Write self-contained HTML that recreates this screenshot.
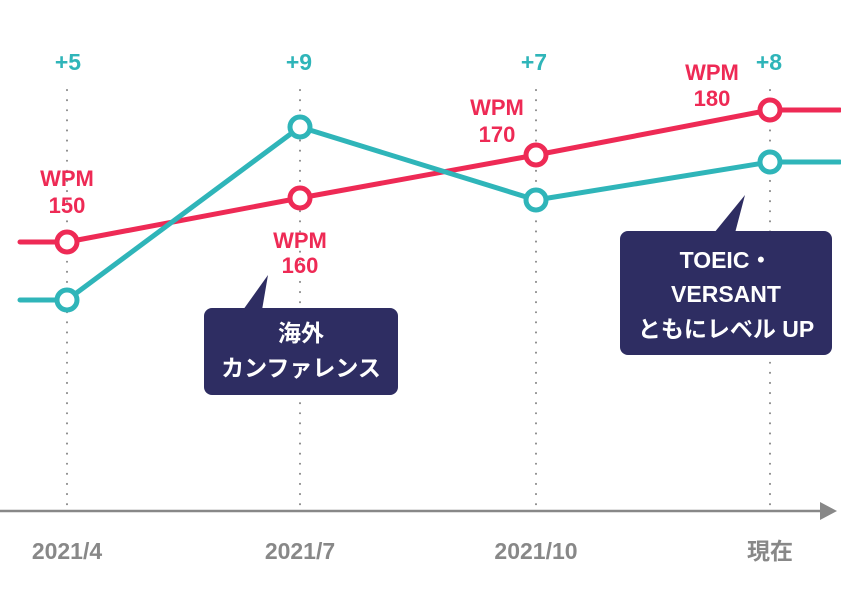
<!DOCTYPE html>
<html><head><meta charset="utf-8"><style>
body{margin:0;background:#fff}
svg text{font-family:"Liberation Sans","Noto Sans CJK JP",sans-serif;font-weight:bold;text-anchor:middle}
</style></head><body>
<svg width="841" height="598" viewBox="0 0 841 598" xmlns="http://www.w3.org/2000/svg">
<g stroke="#888" stroke-width="2" stroke-dasharray="0.1 10" stroke-linecap="round">
<line x1="67" y1="90" x2="67" y2="508"/><line x1="300" y1="90" x2="300" y2="508"/>
<line x1="536" y1="90" x2="536" y2="508"/><line x1="770" y1="90" x2="770" y2="508"/>
</g>
<line x1="0" y1="511" x2="826" y2="511" stroke="#888" stroke-width="2.5"/>
<polygon points="820,502 837,511 820,520" fill="#888"/>
<polyline points="20,242 67,242 300,198 536,155 770,110 840,110" fill="none" stroke="#ee2a55" stroke-width="5" stroke-linecap="round" stroke-linejoin="round"/>
<polyline points="20,300 67,300 300,127 536,200 770,162 840,162" fill="none" stroke="#2fb5b9" stroke-width="5" stroke-linecap="round" stroke-linejoin="round"/>
<g fill="#fff" stroke-width="5">
<g stroke="#ee2a55"><circle cx="67" cy="242" r="10"/><circle cx="300" cy="198" r="10"/><circle cx="536" cy="155" r="10"/><circle cx="770" cy="110" r="10"/></g>
<g stroke="#2fb5b9"><circle cx="67" cy="300" r="10"/><circle cx="300" cy="127" r="10"/><circle cx="536" cy="200" r="10"/><circle cx="770" cy="162" r="10"/></g>
</g>
<g fill="#2fb5b9" font-size="23"><text x="68" y="70">+5</text><text x="299" y="70">+9</text><text x="534" y="70">+7</text><text x="769" y="70">+8</text></g>
<g fill="#ee2a55" font-size="22">
<text x="67" y="186">WPM</text><text x="67" y="213">150</text>
<text x="300" y="248">WPM</text><text x="300" y="273">160</text>
<text x="497" y="115">WPM</text><text x="497" y="142">170</text>
<text x="712" y="80">WPM</text><text x="712" y="106">180</text>
</g>
<g fill="#2e2d62">
<rect x="204" y="308" width="194" height="87" rx="8"/><polygon points="243,310 262,310 268,275"/>
<rect x="620" y="231" width="212" height="124" rx="8"/><polygon points="714,233 735,233 745,195"/>
</g>
<g fill="#fff" font-size="23">
<text x="301" y="341">海外</text><text x="301" y="376">カンファレンス</text>
<text x="726" y="268">TOEIC・</text><text x="726" y="302">VERSANT</text><text x="726" y="337">ともにレベル UP</text>
</g>
<g fill="#888" font-size="23"><text x="67" y="559">2021/4</text><text x="300" y="559">2021/7</text><text x="536" y="559">2021/10</text><text x="770" y="559">現在</text></g>
</svg>
</body></html>
